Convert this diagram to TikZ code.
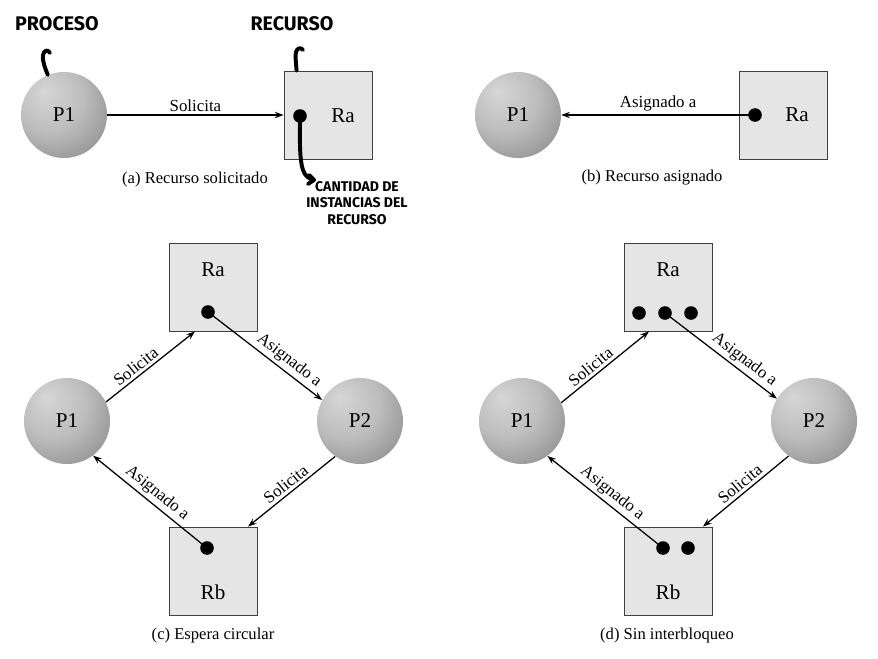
\documentclass[tikz,border=0pt]{standalone}
\usepackage{fontspec}
\setmainfont{Liberation Serif}
\newfontfamily\handfont{Fira Sans}
\usetikzlibrary{arrows.meta,calc,positioning}
\pgfdeclareradialshading{procball}{\pgfpoint{-12bp}{14bp}}{color(0bp)=(black!16); color(20bp)=(black!26); color(45bp)=(black!50); color(70bp)=(black!64)}
\tikzset{
    proc/.style={
        circle,
        minimum size=2.15cm,
        inner sep=0pt,
        shading=procball,
        font=\fontsize{15}{17}\selectfont
    },
    res/.style={
        draw=black!75,
        line width=0.6pt,
        fill=black!10,
        minimum size=2.2cm,
        inner sep=0pt
    },
    tok/.style={circle, fill=black, minimum size=0.34cm, inner sep=0pt},
    rname/.style={font=\fontsize{15}{17}\selectfont},
    lbl/.style={font=\fontsize{12}{14}\selectfont, inner sep=2pt},
    caption/.style={font=\fontsize{11.8}{13}\selectfont},
    arr/.style={
        draw=black,
        line width=0.9pt,
        -{Stealth[length=2.2mm, width=1.6mm, inset=0.8mm]}
    },
    hand/.style={font=\handfont\bfseries\fontsize{14}{16}\selectfont},
    handnote/.style={font=\handfont\bfseries\fontsize{10}{11.5}\selectfont, align=center},
    pen/.style={line width=2.8pt, line cap=round, line join=round}
}

\begin{document}
\begin{tikzpicture}[x=0.025cm, y=-0.025cm]
    \useasboundingbox (0,0) rectangle (878,658);

    % (a) Recurso solicitado
    \node[proc] (p1a) at (64,115) {P1};
    \node[res] (raa) at (328,115) {};
    \node[rname] at ($(raa)+(15,1)$) {Ra};
    \node[tok] (ta) at ($(raa)+(-28,1)$) {};
    \draw[arr] (p1a) -- node[lbl, above] {Solicita} (raa);
    \node[caption] at (195,180) {(a) Recurso solicitado};

    % Notes
    \node[hand] (nproc) at (57,24) {PROCESO};
    \node[hand] (nrec) at (292,24) {RECURSO};
    \node[handnote] (ninst) at (357,203) {CANTIDAD DE\\INSTANCIAS DEL\\RECURSO};
    \draw[pen] (p1a.112) .. controls (45,68) and (42,60) .. (43,55) .. controls (44,50) and (48,49) .. (50,53);
    \draw[pen] ($(raa.north west)+(13,0)$) .. controls (296,62) and (295,56) .. (296,52) .. controls (297,48) and (301,47) .. (303,50);
    \draw[pen] (ta.center) .. controls (300,135) and (299,158) .. (303,170) .. controls (305,176) and (309,179) .. (314,180);
    \draw[pen] (309,175) -- (314,180) -- (308,184);

    % (b) Recurso asignado
    \node[proc] (p1b) at (518,115) {P1};
    \node[res] (rab) at (783,115) {};
    \node[rname] at ($(rab)+(14,0)$) {Ra};
    \node[tok] (tb) at ($(rab)+(-28,0)$) {};
    \draw[arr] (tb.center) -- node[lbl, above] {Asignado a} (p1b);
    \node[caption] at (652,178) {(b) Recurso asignado};

    % (c) Espera circular
    \node[res] (rac) at (213,287) {};
    \node[rname] at ($(rac)+(0,-17)$) {Ra};
    \node[tok] (tc1) at ($(rac)+(-5,25)$) {};
    \node[proc] (p1c) at (67,421) {P1};
    \node[proc] (p2c) at (360,421) {P2};
    \node[res] (rbc) at (213,571) {};
    \node[rname] at ($(rbc)+(0,21)$) {Rb};
    \node[tok] (tc2) at ($(rbc)+(-6,-23)$) {};
    \draw[arr] (p1c.26) -- node[lbl, above, sloped, pos=0.4] {Solicita} ($(rac.south)+(-18,0)$);
    \draw[arr] (tc1.center) -- node[lbl, above, sloped, pos=0.65] {Asignado a} (p2c.151);
    \draw[arr] (p2c.235) -- node[lbl, above, sloped] {Solicita} ($(rbc.north)+(35,0)$);
    \draw[arr] (tc2.center) -- node[lbl, above, sloped] {Asignado a} (p1c.-53);
    \node[caption] at (213,635) {(c) Espera circular};

    % (d) Sin interbloqueo
    \node[res] (rad) at (668,287) {};
    \node[rname] at ($(rad)+(0,-17)$) {Ra};
    \foreach \dx [count=\i] in {-29,-3,23}
        \node[tok] (td\i) at ($(rad)+(\dx,26)$) {};
    \node[proc] (p1d) at (522,421) {P1};
    \node[proc] (p2d) at (814,421) {P2};
    \node[res] (rbd) at (668,571) {};
    \node[rname] at ($(rbd)+(0,21)$) {Rb};
    \node[tok] (te1) at ($(rbd)+(-5,-23)$) {};
    \node[tok] (te2) at ($(rbd)+(20,-23)$) {};
    \draw[arr] (p1d.25) -- node[lbl, above, sloped, pos=0.4] {Solicita} ($(rad.south)+(-19,0)$);
    \draw[arr] (td2.center) -- node[lbl, above, sloped, pos=0.65] {Asignado a} (p2d.149);
    \draw[arr] (p2d.234) -- node[lbl, above, sloped] {Solicita} ($(rbd.north)+(35,0)$);
    \draw[arr] (te1.center) -- node[lbl, above, sloped] {Asignado a} (p1d.-54);
    \node[caption] at (667,635) {(d) Sin interbloqueo};
\end{tikzpicture}
\end{document}
